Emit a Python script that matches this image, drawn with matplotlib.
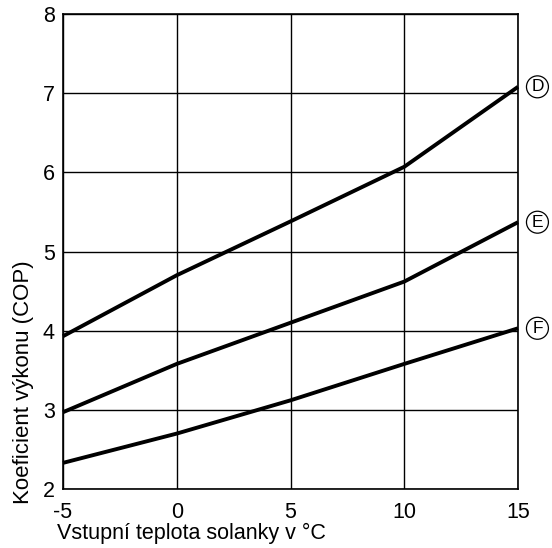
import matplotlib.pyplot as plt

plt.rcParams['font.family'] = ['Liberation Sans', 'DejaVu Sans']
plt.rcParams['axes.unicode_minus'] = False

teplota = [-5, 0, 5, 10, 15]
cop_d = [3.93, 4.70, 5.38, 6.07, 7.08]
cop_e = [2.97, 3.58, 4.10, 4.62, 5.37]
cop_f = [2.33, 2.70, 3.12, 3.58, 4.03]
krivky = {'D': cop_d, 'E': cop_e, 'F': cop_f}

W, H = 552, 548
fig = plt.figure(figsize=(W / 100, H / 100), dpi=100)
ax = fig.add_axes([63 / W, 1 - 489 / H, 455 / W, 475 / H])

for nazev, hodnoty in krivky.items():
    ax.plot(teplota, hodnoty, color='black', lw=2.8, solid_capstyle='butt', clip_on=False)
    ax.annotate(nazev, (teplota[-1], hodnoty[-1]), xytext=(14, 0), textcoords='offset points',
                ha='center', va='center', fontsize=12.5,
                bbox=dict(boxstyle='circle,pad=0.2', fc='white', ec='black', lw=0.9),
                annotation_clip=False)

ax.set_xlim(-5, 15)
ax.set_ylim(2, 8)
ax.set_xticks(teplota)
ax.set_yticks(range(2, 9))
ax.grid(True, color='black', lw=1)
ax.tick_params(length=0, labelsize=15.5)
ax.tick_params(axis='y', pad=6)
ax.tick_params(axis='x', pad=9)
for s in ax.spines.values():
    s.set_linewidth(1.2)

fig.text(57 / W, 1 - 539 / H, 'Vstupní teplota solanky v °C', fontsize=15.5, ha='left', va='baseline')
fig.text(24 / W, 1 - 382 / H, 'Koeficient výkonu (COP)', fontsize=16, rotation=90,
         ha='center', va='center')

fig.savefig('out.png', dpi=100)
